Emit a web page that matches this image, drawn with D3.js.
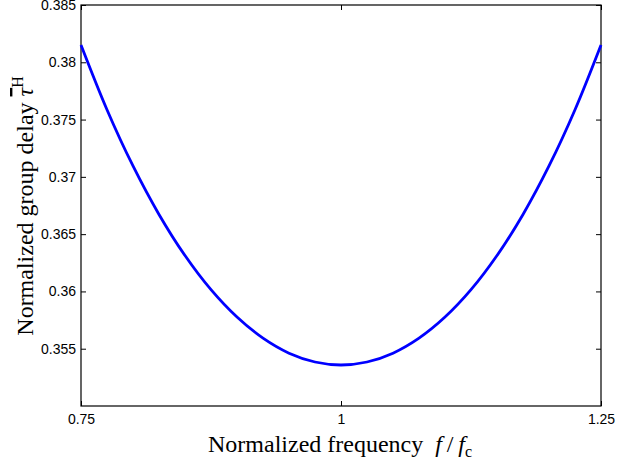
<!DOCTYPE html>
<html>
<head>
<meta charset="utf-8">
<script src="https://cdn.jsdelivr.net/npm/d3@7"></script>
<style>
  body { margin: 0; background: #fff; }
  svg { display: block; }
</style>
</head>
<body>
<svg id="chart" width="631" height="463"></svg>
<script>
// normalized frequency samples and the group delay
const freq = [0.75, 0.775, 0.8, 0.825, 0.85, 0.875, 0.9, 0.925, 0.95, 0.975, 1,
              1.025, 1.05, 1.075, 1.1, 1.125, 1.15, 1.175, 1.2, 1.225, 1.25];
const delay = [0.38151, 0.37586, 0.37095, 0.36672, 0.36313, 0.36015, 0.35776, 0.35592, 0.35461, 0.35384, 0.35358,
               0.35384, 0.35461, 0.35592, 0.35776, 0.36015, 0.36313, 0.36672, 0.37095, 0.37586, 0.38151];
const xTicks = [0.75, 1, 1.25];
const xTickLabels = ["0.75", "1", "1.25"];
const yTicks = [0.355, 0.36, 0.365, 0.37, 0.375, 0.38, 0.385];
const yTickLabels = ["0.355", "0.36", "0.365", "0.37", "0.375", "0.38", "0.385"];

let svg = d3.select("#chart");
// plot box
let boxLeft = 81, boxRight = 601, boxTop = 5, boxBottom = 406;

let x = d3.scaleLinear().domain([0.75, 1.25]).range([boxLeft, boxRight]);
let y = d3.scaleLinear().domain([0.35, 0.385]).range([boxBottom, boxTop]);

// frame
svg.append("rect")
   .attr("x", boxLeft).attr("y", boxTop)
   .attr("width", boxRight - boxLeft).attr("height", boxBottom - boxTop)
   .attr("fill", "none").attr("stroke", "#000").attr("stroke-width", 1.2);

// inward ticks on all four sides
let tickFont = "Liberation Sans, Arial, sans-serif";
let ax = d3.axisBottom(x).tickValues(xTicks).tickSize(-5).tickPadding(8)
           .tickFormat((d, i) => xTickLabels[i]);
let gx = svg.append("g").attr("transform", `translate(0,${boxBottom})`).call(ax);
let gxTop = svg.append("g").attr("transform", `translate(0,${boxTop})`)
               .call(d3.axisTop(x).tickValues(xTicks).tickSize(-5).tickFormat(""));
let ay = d3.axisLeft(y).tickValues(yTicks).tickSize(-5).tickPadding(5)
           .tickFormat((d, i) => yTickLabels[i]);
let gy = svg.append("g").attr("transform", `translate(${boxLeft},0)`).call(ay);
let gyRight = svg.append("g").attr("transform", `translate(${boxRight},0)`)
                 .call(d3.axisRight(y).tickValues(yTicks).tickSize(-5).tickFormat(""));

[gx, gxTop, gy, gyRight].forEach(g => {
    g.select(".domain").remove();
    g.selectAll(".tick line").attr("stroke", "#000").attr("stroke-width", 1);
    g.selectAll(".tick text").attr("fill", "#000")
     .style("font-family", tickFont).style("font-size", "14px");
});

// the curve
let line = d3.line()
    .x((d, i) => x(freq[i]))
    .y(d => y(d))
    .curve(d3.curveCatmullRom);
svg.append("path")
   .datum(delay)
   .attr("d", line)
   .attr("fill", "none")
   .attr("stroke", "#0000ff")
   .attr("stroke-width", 2.8);

// axis titles
let serif = "Liberation Serif, Times New Roman, serif";
let xt = svg.append("text")
   .attr("x", 340).attr("y", 452)
   .attr("text-anchor", "middle")
   .style("font-family", serif).style("font-size", "24px");
xt.append("tspan").text("Normalized frequency\u00a0\u00a0");
xt.append("tspan").attr("font-style", "italic").text("f");
xt.append("tspan").text("\u2009/\u2009");
xt.append("tspan").attr("font-style", "italic").text("f");
xt.append("tspan").attr("dy", 5).style("font-size", "16px").text("c");

let yt = svg.append("text")
   .attr("transform", `translate(33,206) rotate(-90)`)
   .attr("text-anchor", "middle")
   .style("font-family", serif).style("font-size", "24px");
yt.append("tspan").text("Normalized group delay ");
yt.append("tspan").attr("font-style", "italic").style("text-decoration", "overline").text("τ");
yt.append("tspan").attr("dy", -10).style("font-size", "16px").text("H");
</script>
</body>
</html>
